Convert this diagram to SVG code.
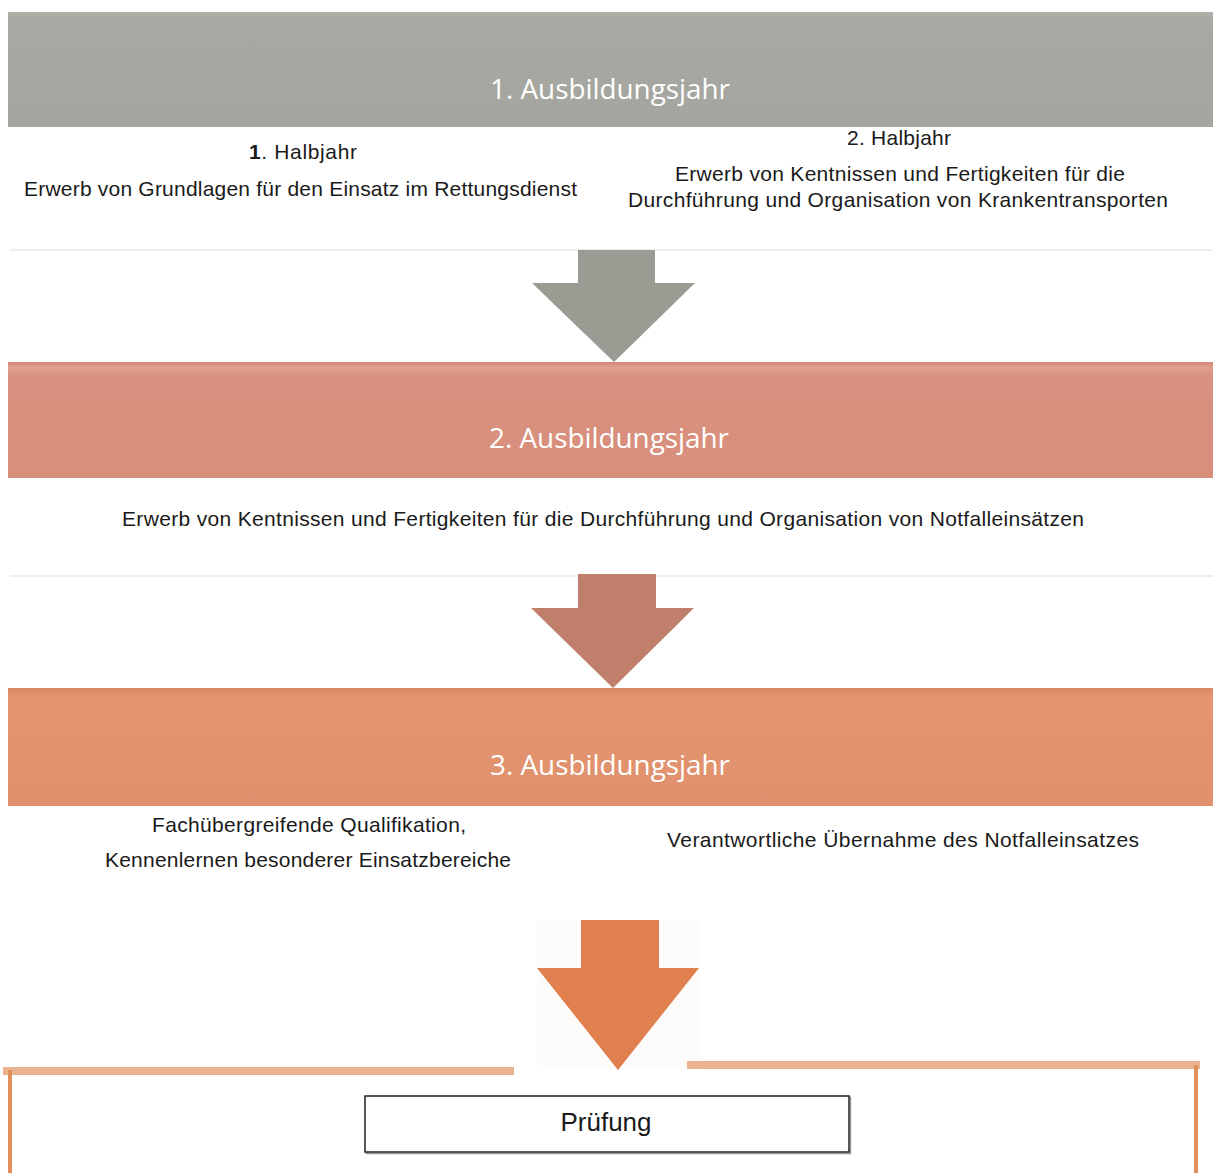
<svg xmlns="http://www.w3.org/2000/svg" width="1213" height="1173" viewBox="0 0 1213 1173">
  <defs>
    <style>
      .band-title { font-family: "Open Sans", "Lato", sans-serif; font-size: 28px; fill: #ffffff; text-anchor: middle; }
      .txt { font-family: "Liberation Sans", Arial, sans-serif; font-size: 21px; fill: #1a1a1a; text-anchor: middle; }
      .faint { stroke: #e8e8e8; stroke-width: 1.5; }
    </style>
    <linearGradient id="g1" x1="0" y1="0" x2="0" y2="1">
      <stop offset="0" stop-color="#b0b1ab"/>
      <stop offset="0.06" stop-color="#a8a9a2"/>
      <stop offset="1" stop-color="#a4a59e"/>
    </linearGradient>
    <linearGradient id="g2" x1="0" y1="0" x2="0" y2="1">
      <stop offset="0" stop-color="#d2847a"/>
      <stop offset="0.05" stop-color="#e3a08f"/>
      <stop offset="0.12" stop-color="#d9917f"/>
      <stop offset="1" stop-color="#d88f7c"/>
    </linearGradient>
    <linearGradient id="g3" x1="0" y1="0" x2="0" y2="1">
      <stop offset="0" stop-color="#d9875f"/>
      <stop offset="0.08" stop-color="#e39670"/>
      <stop offset="1" stop-color="#e0906c"/>
    </linearGradient>
  </defs>
  <rect x="0" y="0" width="1213" height="1173" fill="#ffffff"/>

  <line class="faint" x1="10" y1="250" x2="1213" y2="250"/>
  <line class="faint" x1="10" y1="576" x2="1213" y2="576"/>

  <g id="jahr1">
    <rect x="8" y="12" width="1205" height="115" fill="url(#g1)"/>
    <text class="band-title" x="610" y="99" textLength="240" lengthAdjust="spacingAndGlyphs">1. Ausbildungsjahr</text>
  </g>

  <g id="halbjahr1">
    <text class="txt" x="303" y="159" textLength="108" lengthAdjust="spacing"><tspan font-weight="bold">1</tspan>. Halbjahr</text>
    <text class="txt" x="300.5" y="196" textLength="553" lengthAdjust="spacing">Erwerb von Grundlagen für den Einsatz im Rettungsdienst</text>
  </g>

  <g id="halbjahr2">
    <text class="txt" x="899" y="145" textLength="104" lengthAdjust="spacing">2. Halbjahr</text>
    <text class="txt" x="900" y="181" textLength="450" lengthAdjust="spacing">Erwerb von Kentnissen und Fertigkeiten für die</text>
    <text class="txt" x="898" y="207" textLength="540" lengthAdjust="spacing">Durchführung und Organisation von Krankentransporten</text>
  </g>

  <g id="jahr2">
    <rect x="8" y="362" width="1205" height="116" fill="url(#g2)"/>
    <text class="band-title" x="609" y="448" textLength="240" lengthAdjust="spacingAndGlyphs">2. Ausbildungsjahr</text>
  </g>

  <g id="jahr2-text">
    <text class="txt" x="603" y="526" textLength="962" lengthAdjust="spacing">Erwerb von Kentnissen und Fertigkeiten für die Durchführung und Organisation von Notfalleinsätzen</text>
  </g>

  <g id="jahr3">
    <rect x="8" y="688" width="1205" height="118" fill="url(#g3)"/>
    <text class="band-title" x="610" y="775" textLength="240" lengthAdjust="spacingAndGlyphs">3. Ausbildungsjahr</text>
  </g>

  <g id="jahr3-links">
    <text class="txt" x="309" y="832" textLength="314" lengthAdjust="spacing">Fachübergreifende Qualifikation,</text>
    <text class="txt" x="308" y="867" textLength="406" lengthAdjust="spacing">Kennenlernen besonderer Einsatzbereiche</text>
  </g>

  <g id="jahr3-rechts">
    <text class="txt" x="903" y="847" textLength="472" lengthAdjust="spacing">Verantwortliche Übernahme des Notfalleinsatzes</text>
  </g>

  <g id="connectors">
    <polygon points="578,250 655,250 655,283 695,283 614,362 532,283 578,283" fill="#9b9b93"/>
    <polygon points="578,574 656,574 656,608 694,608 613,688 531,608 578,608" fill="#c07f6b"/>
    <rect x="537" y="920" width="162" height="150" fill="#fefcfb"/>
    <polygon points="581,920 659,920 659,968 699,968 618,1070 537,968 581,968" fill="#e1804f"/>
  </g>

  <g id="pruefung-rahmen">
    <rect x="3" y="1067" width="511" height="8" fill="#e9b390"/>
    <rect x="687" y="1061" width="513" height="8" fill="#e9b390"/>
    <rect x="8" y="1070" width="4" height="103" fill="#e0915e"/>
    <rect x="1194" y="1065" width="4" height="108" fill="#e0915e"/>
  </g>

  <g id="pruefung">
    <rect x="366.5" y="1097.5" width="484" height="56" fill="none" stroke="#9a9a9a" stroke-width="1.5"/>
    <rect x="365" y="1096" width="484" height="56" fill="#ffffff" stroke="#222222" stroke-width="1.5"/>
    <text class="txt" x="606" y="1131" style="font-size:26px">Prüfung</text>
  </g>
</svg>
